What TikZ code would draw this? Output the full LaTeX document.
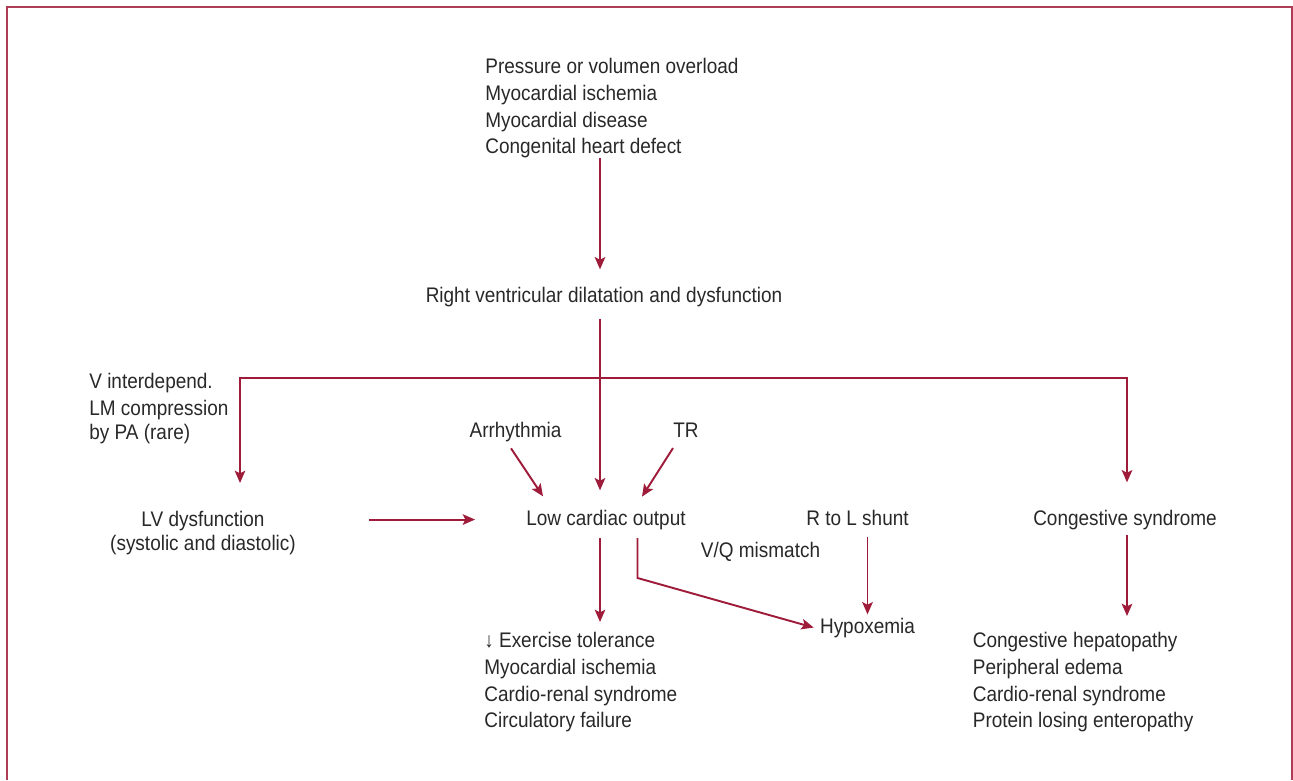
\documentclass[tikz,border=0pt]{standalone}
\usepackage{fontspec}
\setmainfont[FakeStretch=0.9]{Liberation Sans}
\usepackage{tikz}
\usetikzlibrary{arrows.meta, positioning, calc}
\definecolor{crim}{RGB}{158,27,58}
\definecolor{ink}{RGB}{40,40,40}
\tikzset{txt/.style = {inner sep=0pt, text=ink, font=\fontsize{12}{15.2}\selectfont},
         tight/.style = {font=\fontsize{12}{13.4}\selectfont},
         link/.style = {draw=crim, line width=1.1pt, -{Stealth[length=7pt, width=6pt, inset=1.5pt]}}}

\begin{document}
\begin{tikzpicture}[x=0.02cm, y=-0.02cm, every node/.style = txt]
            \useasboundingbox (0,0) rectangle (1293,780);
            \draw[crim!85, line width=0.8pt] (7,780) -- (7,7) -- (1292,7) -- (1292,780);

            \node [anchor=north west, align=left] (causes) at (485, 58)
                {Pressure or volumen overload\\Myocardial ischemia\\Myocardial disease\\Congenital heart defect};
            \node [anchor=base] (rvd) at (604, 302) {Right ventricular dilatation and dysfunction};

            \node [anchor=base west] (vint) at (89, 388) {V interdepend.};
            \node [anchor=north west, align=left, tight] (lmc) at (89, 400) {LM compression\\by PA (rare)};
            \node [anchor=base] (arr) at (515.5, 437) {Arrhythmia};
            \node [anchor=base] (tr)  at (686, 437)   {TR};

            \node [anchor=north, align=center, tight] (lvd) at (203, 511) {LV dysfunction\\(systolic and diastolic)};
            \node [anchor=base] (lco)   at (606, 525)    {Low cardiac output};
            \node [anchor=base] (shunt) at (857.5, 525)  {R to L shunt};
            \node [anchor=base] (vq)    at (760.5, 557)  {V/Q mismatch};
            \node [anchor=base] (cong)  at (1125, 525)   {Congestive syndrome};
            \node [anchor=base] (hyp)   at (867.5, 633)  {Hypoxemia};

            \node [anchor=north west, align=left] (effects) at (484, 632)
                {↓ Exercise tolerance\\Myocardial ischemia\\Cardio-renal syndrome\\Circulatory failure};
            \node [anchor=north west, align=left] (congfx) at (972.5, 632)
                {Congestive hepatopathy\\Peripheral edema\\Cardio-renal syndrome\\Protein losing enteropathy};

            \coordinate (spine) at (600, 0);
            \coordinate (split) at (600, 378);
            \coordinate (lbend) at (240, 378);
            \coordinate (rbend) at (1127, 378);
            \coordinate (kink)  at (637.5, 578);

            \draw[link, shorten >=3.4mm] (causes.south -| spine) -- (rvd.north -| spine);
            \draw[link, shorten <=2.4mm, shorten >=3.8mm] (rvd.south -| spine) -- (lco.north -| spine);
            \draw[link, shorten >=5.6mm] (split) -- (lbend) -- (lbend |- lvd.north);
            \draw[link, shorten >=5.4mm] (split) -- (rbend) -- (rbend |- cong.north);

            \draw[link, shorten <=14.6mm, shorten >=10.2mm] (lvd.east |- lco.west) -- (lco.west);
            \draw[link] ($(arr.south)+(-4.5,6.6)$) -- ($(lco.north west)+(17,-13)$);
            \draw[link] ($(tr.south west)+(0,10.7)$) -- ($(lco.north east)+(-44,-12.7)$);

            \draw[link, shorten <=1.7mm, shorten >=2mm] (lco.south -| spine) -- (effects.north -| spine);
            \draw[link, shorten <=1.7mm] (lco.south -| kink) -- (kink) -- ($(hyp.west)+(-6,0)$);
            \draw[link, shorten <=2.3mm, shorten >=0.6mm] (shunt.south -| hyp.north) -- (hyp.north);
            \draw[link, shorten <=1.1mm, shorten >=3.2mm] (cong.south -| rbend) -- (congfx.north -| rbend);
        \end{tikzpicture}
\end{document}
